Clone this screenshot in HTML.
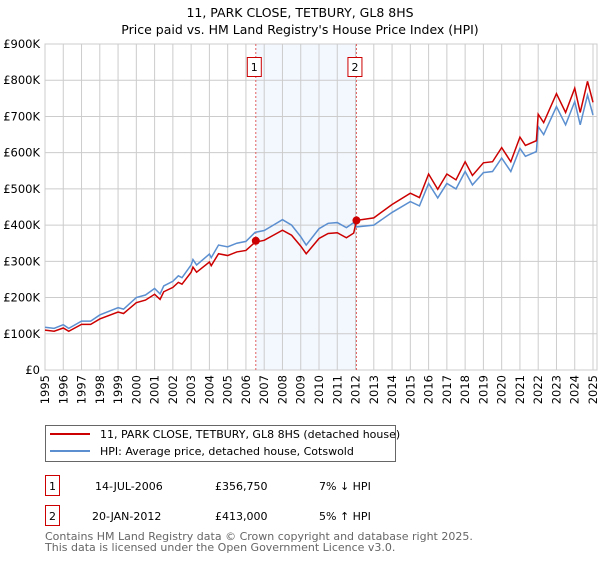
<!DOCTYPE html>
<html><head><meta charset="utf-8"><style>
body{margin:0;background:#fff;font-family:"Liberation Sans","DejaVu Sans",sans-serif;}
svg text{font-family:"DejaVu Sans","Liberation Sans",sans-serif;}
</style></head><body>
<svg id="c" width="600" height="560" xmlns="http://www.w3.org/2000/svg">
<text x="300" y="17" text-anchor="middle" font-size="12.5">11, PARK CLOSE, TETBURY, GL8 8HS</text>
<text x="300" y="34" text-anchor="middle" font-size="12.5">Price paid vs. HM Land Registry's House Price Index (HPI)</text>
<g id="plot"></g>
<g>
<rect x="45.5" y="425.5" width="350" height="36" fill="#fff" stroke="#666"/>
<line x1="50" y1="434" x2="90" y2="434" stroke="#cc0000" stroke-width="2"/>
<text x="100" y="438" font-size="11">11, PARK CLOSE, TETBURY, GL8 8HS (detached house)</text>
<line x1="50" y1="451" x2="90" y2="451" stroke="#5b8fd0" stroke-width="2"/>
<text x="100" y="455" font-size="11">HPI: Average price, detached house, Cotswold</text>
</g>
<g>
<rect x="45.5" y="475.5" width="14" height="20" fill="#fff" stroke="#cc0000"/>
<text x="52.5" y="490" text-anchor="middle" font-size="11">1</text>
<text x="95" y="490" font-size="11">14-JUL-2006</text>
<text x="215" y="490" font-size="11">£356,750</text>
<text x="319" y="490" font-size="11">7% ↓ HPI</text>
</g>
<g>
<rect x="45.5" y="505.5" width="14" height="20" fill="#fff" stroke="#cc0000"/>
<text x="52.5" y="520" text-anchor="middle" font-size="11">2</text>
<text x="92" y="520" font-size="11">20-JAN-2012</text>
<text x="215" y="520" font-size="11">£413,000</text>
<text x="319" y="520" font-size="11">5% ↑ HPI</text>
</g>
<text x="45" y="540" font-size="11" fill="#666">Contains HM Land Registry data © Crown copyright and database right 2025.</text>
<text x="45" y="551" font-size="11" fill="#666">This data is licensed under the Open Government Licence v3.0.</text>
</svg>
<script>
const years=[1995,1995.5,1996,1996.3,1997,1997.5,1998,1999,1999.3,2000,2000.5,2001,2001.3,2001.5,2002,2002.3,2002.5,2003,2003.1,2003.3,2004,2004.1,2004.5,2005,2005.5,2006,2006.5,2007,2007.5,2008,2008.5,2009,2009.3,2010,2010.5,2011,2011.5,2011.9,2012.05,2013,2014,2015,2015.5,2016,2016.5,2017,2017.5,2018,2018.4,2019,2019.5,2020,2020.5,2021,2021.3,2021.9,2022,2022.3,2023,2023.5,2024,2024.3,2024.7,2025];
const hpi=[118,115,125,115,135,135,152,172,168,200,207,225,210,232,245,260,255,290,305,290,320,310,345,340,350,355,380,385,400,415,400,368,345,390,405,407,393,407,395,400,435,465,453,515,475,515,500,548,511,545,548,585,548,612,590,603,672,650,727,677,741,677,759,704];
const price=[110,107,116,107,126,126,141,160,156,186,193,209,195,216,228,242,237,270,284,270,298,288,321,316,326,330,353,358,372,386,372,342,321,363,377,379,365,378,413,420,457,488,476,541,499,541,525,575,537,572,575,614,575,643,620,633,706,683,763,711,778,711,797,739];
const saleYears=[2006.54,2012.05];
const salePrices=[356.75,413];
const saleLabels=["1","2"];
const yTicks=[0,100,200,300,400,500,600,700,800,900];
const yTickLabels=["£0","£100K","£200K","£300K","£400K","£500K","£600K","£700K","£800K","£900K"];
const xTicks=[1995,1996,1997,1998,1999,2000,2001,2002,2003,2004,2005,2006,2007,2008,2009,2010,2011,2012,2013,2014,2015,2016,2017,2018,2019,2020,2021,2022,2023,2024,2025];

const NS="http://www.w3.org/2000/svg";
const X0=45,X1=593,Y0=370,Y1=44;
const xs=y=>X0+(y-1995)/30*(X1-X0);
const ys=v=>Y0-v/900*(Y0-Y1);
const g=document.getElementById('plot');
function mk(t,a){const e=document.createElementNS(NS,t);for(const k in a)e.setAttribute(k,a[k]);g.appendChild(e);return e;}
const bg=mk('rect',{x:X0,y:Y1,width:597-X0,height:Y0-Y1,fill:'#fff'});


const sh=mk('rect',{x:xs(saleYears[0]),y:Y1,width:xs(saleYears[1])-xs(saleYears[0]),height:Y0-Y1,fill:'#eef3fd',opacity:0.7});


yTicks.forEach((v,i)=>{
  const l=mk('line',{x1:X0,x2:597,y1:ys(v),y2:ys(v),stroke:'#ccc','stroke-width':1});
  
  
  const t=mk('text',{x:40,y:ys(v)+4,'text-anchor':'end','font-size':11.5});
  t.textContent=yTickLabels[i];
  
  
});
xTicks.forEach(yr=>{
  const l=mk('line',{x1:xs(yr),x2:xs(yr),y1:Y1,y2:Y0,stroke:'#ccc','stroke-width':1});
  
  
  const t=mk('text',{x:0,y:0,'text-anchor':'end','font-size':11.5,transform:`translate(${xs(yr)+4},${Y0+5}) rotate(-90)`});
  t.textContent=yr;
  
  
});
const ax=mk('rect',{x:X0,y:Y1,width:597-X0,height:Y0-Y1,fill:'none',stroke:'#ccc'});


saleYears.forEach((sy,i)=>{
  const l=mk('line',{x1:xs(sy),x2:xs(sy),y1:Y1,y2:Y0,stroke:'#e06060','stroke-dasharray':'2,2','stroke-width':1});
  
  
  const r=mk('rect',{x:xs(sy)-8.5,y:57.5,width:14,height:19,fill:'#fff',stroke:'#cc0000'});
  
  
  const t=mk('text',{x:xs(sy)-1.5,y:71,'text-anchor':'middle','font-size':11});
  t.textContent=saleLabels[i];
  
  
});
const hp=mk('polyline',{points:years.map((y,i)=>xs(y)+','+ys(hpi[i])).join(' '),fill:'none',stroke:'#5b8fd0','stroke-width':1.5});


const pp=mk('polyline',{points:years.map((y,i)=>xs(y)+','+ys(price[i])).join(' '),fill:'none',stroke:'#cc0000','stroke-width':1.5});


saleYears.forEach((sy,i)=>{
  const c=mk('circle',{cx:xs(sy),cy:ys(salePrices[i]),r:4,fill:'#cc0000'});
  
  
});
</script>
</body></html>
